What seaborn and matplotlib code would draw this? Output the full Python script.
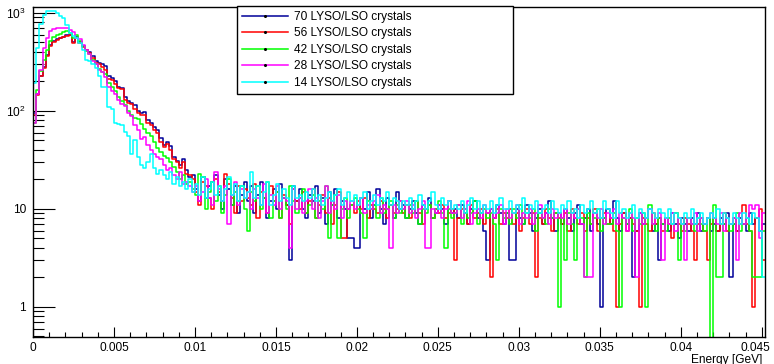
import numpy as np
import pandas as pd
import matplotlib
matplotlib.use("Agg")
import matplotlib.pyplot as plt
from matplotlib.lines import Line2D
from matplotlib.transforms import ScaledTranslation
from matplotlib.ticker import MultipleLocator, LogLocator, FixedLocator, FixedFormatter, NullFormatter
import seaborn as sns

# ---- data (counts per 0.0002 GeV bin, 0 .. 0.0452 GeV) ----
labels = ["70 LYSO/LSO crystals", "56 LYSO/LSO crystals", "42 LYSO/LSO crystals",
          "28 LYSO/LSO crystals", "14 LYSO/LSO crystals"]
colors = ["#000099", "#ff0000", "#00ff00", "#ff00ff", "#00ffff"]
bin_width = 0.0002
x_max = 0.0452

counts_70 = [
    95, 150, 230, 280, 370, 470, 520, 540, 560, 575,
    590, 600, 500, 570, 500, 460, 420, 400, 360, 320,
    310, 300, 285, 230, 215, 200, 175, 172, 138, 126,
    120, 115, 100, 95, 97, 80, 75, 68, 64, 53,
    45, 48, 44, 34, 31, 28, 32, 25, 21, 22,
    16, 12, 21, 13, 17, 19, 22, 14, 10, 20, 16, 11, 17, 9, 14, 19,
    12, 17, 9, 14, 19, 13, 8, 12, 16, 10, 18, 13, 11, 3, 17, 12,
    16, 10, 8, 14, 12, 17, 9, 13, 7, 15, 11, 16, 8, 12, 10, 5,
    5, 4, 4, 13, 10, 15, 8, 11, 16, 10, 7, 13, 11, 8, 15, 10,
    11, 8, 10, 12, 9, 7, 11, 10, 13, 8, 9, 11, 10, 7, 12, 9,
    10, 8, 11, 9, 7, 10, 12, 8, 9, 6, 3, 10, 8, 11, 9, 7,
    9, 3, 3, 10, 8, 7, 11, 9, 6, 8, 10, 7, 9, 12, 8, 6,
    9, 7, 10, 8, 6, 9, 11, 7, 8, 10, 6, 9, 7, 1, 8, 10,
    7, 12, 8, 6, 9, 7, 8, 2, 6, 9, 7, 8, 10, 6, 7, 3,
    7, 8, 6, 9, 7, 5, 8, 7, 6, 8, 7, 9, 6, 7, 8, 6,
    7, 6, 8, 7, 9, 2, 7, 6, 8, 7, 6, 9, 7, 8, 6, 7,
]
counts_56 = [
    90, 145, 225, 275, 360, 460, 510, 530, 550, 565,
    580, 590, 490, 560, 490, 450, 415, 390, 350, 310,
    300, 280, 260, 212, 205, 190, 170, 166, 130, 120,
    117, 106, 96, 90, 92, 76, 72, 64, 60, 48,
    43, 46, 40, 32, 30, 26, 30, 23, 22, 20,
    15, 11, 19, 17, 13, 10, 20, 15, 12, 23, 18, 13, 9, 17, 12, 16,
    13, 11, 18, 8, 15, 13, 9, 17, 12, 15, 8, 14, 11, 7, 16, 12,
    10, 15, 9, 12, 16, 8, 11, 14, 9, 13, 7, 11, 15, 5, 5, 10,
    11, 9, 12, 10, 13, 8, 11, 10, 9, 12, 10, 8, 11, 9, 10, 12,
    9, 11, 8, 10, 12, 9, 7, 10, 11, 8, 10, 9, 11, 8, 9, 10,
    3, 8, 10, 9, 7, 11, 8, 9, 10, 7, 9, 2, 8, 10, 7, 9,
    8, 10, 7, 9, 6, 8, 10, 7, 9, 2, 8, 7, 10, 8, 6, 9,
    8, 7, 9, 6, 10, 8, 7, 9, 6, 8, 7, 10, 6, 8, 9, 7,
    8, 6, 1, 7, 9, 6, 8, 7, 6, 1, 8, 7, 6, 9, 7, 8,
    6, 8, 7, 5, 9, 7, 6, 8, 7, 6, 3, 7, 8, 6, 3, 7,
    8, 6, 7, 9, 6, 7, 8, 6, 7, 11, 7, 6, 1, 8, 10, 3,
]
counts_42 = [
    75, 165, 255, 330, 420, 520, 575, 600, 615, 640,
    650, 630, 560, 590, 515, 460, 410, 380, 330, 300,
    270, 250, 240, 195, 175, 160, 140, 126, 115, 100,
    90, 85, 82, 74, 66, 60, 55, 48, 42, 38,
    35, 33, 30, 27, 24, 20, 22, 18, 19, 16,
    14, 23, 21, 10, 15, 19, 12, 17, 9, 14, 20, 11, 15, 12, 17, 10,
    6, 15, 12, 17, 10, 13, 19, 8, 12, 15, 8, 13, 10, 17, 12, 9,
    13, 16, 9, 11, 14, 8, 12, 10, 17, 5, 11, 14, 5, 10, 13, 8,
    11, 13, 10, 9, 5, 12, 10, 11, 8, 13, 9, 10, 12, 8, 11, 9,
    10, 8, 11, 9, 12, 7, 10, 9, 11, 8, 10, 12, 9, 4, 10, 8,
    9, 11, 7, 10, 8, 9, 12, 7, 9, 10, 8, 9, 7, 3, 10, 8,
    9, 7, 10, 8, 11, 7, 9, 8, 10, 6, 9, 8, 7, 10, 8, 9,
    1, 8, 3, 9, 7, 3, 10, 8, 2, 9, 7, 8, 10, 6, 8, 7,
    7, 9, 6, 1, 8, 7, 10, 6, 8, 7, 9, 1, 11, 7, 6, 8,
    7, 6, 8, 7, 9, 3, 7, 6, 8, 7, 6, 8, 7, 6, 8, 0,
    11, 2, 2, 7, 8, 6, 7, 9, 6, 7, 8, 6, 2, 2, 2, 6,
]
counts_28 = [
    75, 150, 260, 440, 560, 660, 690, 700, 700, 710,
    700, 670, 640, 560, 540, 470, 420, 380, 320, 300,
    260, 250, 220, 175, 160, 150, 130, 118, 112, 95,
    88, 72, 64, 52, 54, 45, 40, 36, 34, 32,
    28, 25, 26, 22, 20, 24, 18, 19, 17, 15,
    17, 12, 15, 20, 13, 11, 24, 16, 12, 17, 7, 14, 19, 11, 16, 13,
    15, 10, 16, 13, 11, 18, 9, 14, 11, 17, 10, 13, 12, 4, 16, 10,
    13, 9, 12, 16, 10, 13, 8, 12, 17, 9, 12, 10, 14, 8, 12, 10,
    12, 10, 11, 13, 9, 11, 10, 12, 14, 9, 11, 10, 4, 11, 9, 12,
    10, 12, 9, 11, 8, 10, 12, 4, 4, 10, 9, 11, 8, 10, 12, 9,
    9, 11, 8, 10, 12, 7, 9, 10, 8, 11, 9, 10, 8, 9, 11, 7,
    10, 8, 9, 11, 7, 9, 8, 10, 7, 9, 11, 8, 9, 7, 10, 8,
    9, 8, 10, 7, 9, 8, 10, 7, 2, 2, 2, 9, 8, 10, 7, 9,
    8, 10, 7, 9, 8, 6, 9, 8, 2, 9, 7, 8, 10, 7, 8, 9,
    3, 8, 7, 9, 6, 8, 7, 3, 8, 7, 9, 6, 8, 7, 8, 9,
    8, 7, 9, 6, 8, 7, 8, 3, 9, 7, 8, 11, 10, 11, 5, 9,
]
counts_14 = [
    195, 440, 780, 960, 1050, 1060, 1040, 1000, 930, 880,
    760, 620, 580, 550, 490, 420, 330, 320, 300, 275,
    230, 175, 175, 110, 105, 75, 73, 72, 61, 55,
    36, 50, 34, 28, 26, 30, 36, 26, 23, 25,
    22, 20, 24, 18, 21, 17, 19, 16, 20, 15,
    18, 14, 21, 13, 16, 19, 14, 17, 12, 16, 21, 14, 18, 12, 17, 13,
    15, 24, 13, 17, 11, 15, 19, 11, 14, 18, 12, 16, 13, 11, 17, 13,
    14, 12, 15, 13, 16, 12, 14, 11, 13, 15, 12, 14, 16, 11, 13, 15,
    12, 14, 11, 13, 15, 10, 12, 14, 11, 13, 12, 15, 11, 13, 12, 10,
    12, 11, 13, 10, 12, 14, 11, 10, 12, 15, 11, 10, 13, 11, 12, 10,
    11, 10, 12, 9, 11, 13, 10, 12, 9, 11, 10, 12, 9, 11, 13, 10,
    10, 12, 9, 11, 10, 13, 9, 11, 10, 12, 9, 10, 11, 9, 12, 10,
    9, 11, 10, 12, 9, 10, 8, 11, 9, 10, 12, 9, 10, 8, 12, 10,
    9, 8, 12, 9, 10, 8, 9, 11, 8, 10, 9, 8, 10, 9, 8, 10,
    9, 8, 10, 7, 9, 8, 7, 9, 8, 10, 7, 8, 9, 7, 8, 9,
    8, 10, 7, 9, 8, 7, 9, 8, 7, 9, 8, 7, 9, 8, 6, 2,
]
series = [counts_70, counts_56, counts_42, counts_28, counts_14]

x_ticks_major = [0, 0.005, 0.01, 0.015, 0.02, 0.025, 0.03, 0.035, 0.04, 0.045]
x_tick_labels = ["0", "0.005", "0.01", "0.015", "0.02", "0.025", "0.03", "0.035", "0.04", "0.045"]
y_ticks_major = [1, 10, 100, 1000]
y_tick_labels = ["1", "10", r"$10^{2}$", r"$10^{3}$"]
x_label = "Energy [GeV]"

# ---- figure ----
plt.rcParams["font.family"] = ["Liberation Sans", "DejaVu Sans"]
plt.rcParams["mathtext.fontset"] = "custom"
plt.rcParams["mathtext.rm"] = "Liberation Sans"
plt.rcParams["mathtext.it"] = "Liberation Sans"

W, H = 774, 364
fig = plt.figure(figsize=(W / 100, H / 100), dpi=100)
ax = fig.add_axes([33 / W, 1 - 337 / H, (765 - 33) / W, (337 - 7) / H])

n_bins = int(round(x_max / bin_width))
edges = np.linspace(0, x_max, n_bins + 1)
for vals, col in zip(series, colors):
    df = pd.DataFrame({"energy": edges[:len(vals)] + bin_width / 2,
                       "count": np.asarray(vals, dtype=float)})
    sns.histplot(data=df, x="energy", weights="count", bins=n_bins, binrange=(0, x_max),
                 element="step", fill=False, color=col, linewidth=1.1, ax=ax)

ax.set_yscale("log")
ax.set_xlim(0, x_max)
ax.set_ylim(0.494, 1151)
ax.set_ylabel("")

ax.xaxis.set_major_locator(FixedLocator(x_ticks_major))
ax.xaxis.set_major_formatter(FixedFormatter(x_tick_labels))
ax.xaxis.set_minor_locator(MultipleLocator(0.001))
ax.yaxis.set_major_locator(FixedLocator(y_ticks_major))
ax.yaxis.set_major_formatter(FixedFormatter(y_tick_labels))
ax.yaxis.set_minor_locator(LogLocator(base=10, subs=np.arange(2, 10), numticks=20))
ax.yaxis.set_minor_formatter(NullFormatter())

ax.tick_params(axis="x", which="major", direction="in", length=7, width=0.8,
               labelsize=8.6, pad=3.5, top=False)
ax.tick_params(axis="x", which="minor", direction="in", length=3.6, width=0.8, top=False)
ax.tick_params(axis="y", which="major", direction="in", length=15.5, width=0.8,
               labelsize=8.6, pad=5, right=False)
ax.tick_params(axis="y", which="minor", direction="in", length=8, width=0.8, right=False)

for s in ax.spines.values():
    s.set_color("black")
    s.set_linewidth(1.0)

# keep the last x tick label inside the canvas (ROOT shifts it left slightly)
last_tick = ax.xaxis.get_major_ticks()[-1]
last_tick.label1.set_transform(last_tick.label1.get_transform()
                               + ScaledTranslation(-6 / 100, 0, fig.dpi_scale_trans))

ax.set_xlabel(x_label, fontsize=8.6, loc="right")
ax.xaxis.set_label_coords(0.997, -0.05)

handles = [Line2D([], [], color=c, lw=1.1, marker="o", markersize=1.2,
                  markerfacecolor="black", markeredgecolor="black") for c in colors]
leg = ax.legend(handles, labels, loc="upper left",
                bbox_to_anchor=((237 - 33) / 732, (337 - 94) / 330, (513 - 237) / 732, (94 - 6) / 330),
                mode="expand", borderaxespad=0, fontsize=8.6, frameon=True, fancybox=False,
                handlelength=3.9, handletextpad=0.5, labelspacing=0.38, borderpad=0.4,
                framealpha=1, edgecolor="black")
leg.get_frame().set_linewidth(1.0)

fig.savefig("out.png", dpi=100)
